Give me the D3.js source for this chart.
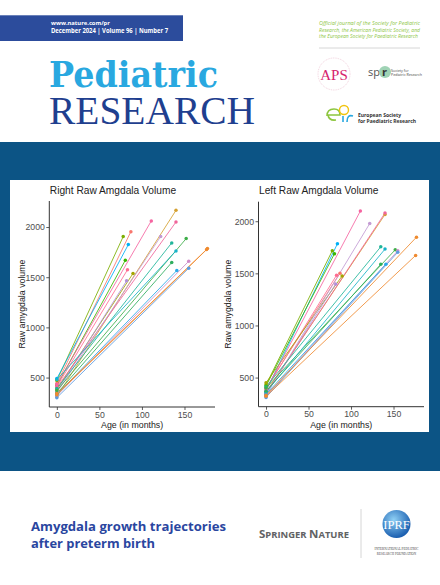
<!DOCTYPE html>
<html><head><meta charset="utf-8">
<script src="https://cdn.jsdelivr.net/npm/d3@7"></script>
<style>body{margin:0;background:#fff}svg{display:block}</style>
</head><body>
<svg id="c" width="440" height="585"></svg>
<script>
// ---- data ----
const subjects   = ["A","B","C","D","E","F","G","H","I","J","K","L","M","N","O","P","Q","R","S","T"];
const birthAge   = [0,0,0,0,0,0,0,0,0,0,0,0,0,0,0,0,0,0,0,0];
const followAge  = [78,87,84,80.5,83,89.5,82,111,140,140,122,135,152,140,135,155,141,155,177,176];
const rightBirth = [470,440,490,420,410,380,360,430,310,400,350,390,370,480,340,320,330,300,340,330];
const rightFollow= [1905,1954,1825,1669,1574,1537,1464,2061,2166,2050,1905,1842,1885,1762,1646,1659,1567,1590,1785,1775];
const leftBirth  = [430,400,370,420,390,450,340,380,360,350,330,410,400,360,370,320,340,310,330,320];
const leftFollow = [1718,1500,1784,1688,1482,1475,1399,2098,2065,2079,1978,1755,1726,1733,1587,1717,1587,1703,1847,1672];
const subjectColors = ["#7CAE00","#F8766D","#00B0F6","#39B600","#FF6C91","#A3A500","#B08FD8","#F564A0","#D4A030","#F0649A",
                       "#C39BD3","#1FB59A","#3DAE48","#18B3C8","#2EAE5E","#D08BC8","#2AA8E8","#5B9BE0","#EE8A2E","#F08A30"];
const xTicks = [0,50,100,150];
const yTicks = [500,1000,1500,2000];
const panelTitles = ["Right Raw Amgdala Volume","Left Raw Amgdala Volume"];

const svg = d3.select("#c");

// ---- cover furniture ----
svg.append("rect").attr("x",0).attr("y",15.3).attr("width",183).attr("height",25.7).attr("fill","#2C4C9C");
svg.append("text").attr("x",51).attr("y",25).attr("fill","#fff").attr("font-family","Open Sans, sans-serif")
  .attr("font-weight","bold").attr("font-size",5.8).text("www.nature.com/pr");
svg.append("text").attr("x",51).attr("y",33.4).attr("fill","#fff").attr("font-family","Open Sans, sans-serif")
  .attr("font-weight","bold").attr("font-size",6.6).attr("textLength",117).attr("lengthAdjust","spacingAndGlyphs")
  .text("December 2024 | Volume 96 | Number 7");

svg.append("text").attr("x",49).attr("y",87).attr("fill","#29A8E0").attr("font-family","DejaVu Serif, serif")
  .attr("font-weight","bold").attr("font-size",35).attr("textLength",169).attr("lengthAdjust","spacingAndGlyphs").text("Pediatric");
svg.append("text").attr("x",49).attr("y",124).attr("fill","#1F3F8F").attr("font-family","Liberation Serif, serif")
  .attr("font-size",40.5).attr("textLength",206).attr("lengthAdjust","spacingAndGlyphs").text("RESEARCH");

const gtxt = ["Official journal of the Society for Pediatric","Research, the American Pediatric Society, and","the European Society for Paediatric Research"];
gtxt.forEach((t,i)=>svg.append("text").attr("x",319).attr("y",25+i*6.6).attr("fill","#8DC63F")
  .attr("font-family","Open Sans, sans-serif").attr("font-style","italic").attr("font-size",4.9)
  .attr("textLength",i==2?99:101).attr("lengthAdjust","spacingAndGlyphs").text(t));
svg.append("line").attr("x1",319).attr("x2",420).attr("y1",48).attr("y2",48).attr("stroke","#ccc").attr("stroke-width",0.8);

// APS
svg.append("circle").attr("cx",334).attr("cy",74).attr("r",16).attr("fill","none").attr("stroke","#e9b7c9").attr("stroke-width",0.6).attr("stroke-dasharray","1 0.8");
svg.append("text").attr("x",334).attr("y",80).attr("text-anchor","middle").attr("fill","#D6246E")
  .attr("font-family","Liberation Serif, serif").attr("font-size",15).text("APS");
// SPR
svg.append("text").attr("x",368).attr("y",76).attr("fill","#555").attr("font-family","Open Sans, sans-serif").attr("font-size",11).text("sp");
svg.append("circle").attr("cx",385).attr("cy",72).attr("r",6).attr("fill","#9fd3b5");
svg.append("text").attr("x",382).attr("y",76).attr("fill","#333").attr("font-family","Open Sans, sans-serif").attr("font-weight","bold").attr("font-size",11).text("r");
svg.append("text").attr("x",391).attr("y",71.5).attr("fill","#444").attr("font-family","Open Sans, sans-serif").attr("font-size",3.6).text("Society for");
svg.append("text").attr("x",391).attr("y",76).attr("fill","#444").attr("font-family","Open Sans, sans-serif").attr("font-size",3.6).text("Pediatric Research");
// ESPR
svg.append("path").attr("d","M327,116 q0,-7 7,-7 q6,0 6,6 l-12,0 q1,6 8,5").attr("fill","none").attr("stroke","#8dc63f").attr("stroke-width",1.6);
svg.append("circle").attr("cx",344).attr("cy",110).attr("r",4.5).attr("fill","none").attr("stroke","#f1c40f").attr("stroke-width",1.4);
svg.append("path").attr("d","M343,122 l0,-6 M347,122 q0,-8 6,-6").attr("fill","none").attr("stroke","#29A8E0").attr("stroke-width",1.6);
svg.append("text").attr("x",358).attr("y",116.5).attr("fill","#333").attr("font-family","Open Sans, sans-serif").attr("font-weight","bold").attr("font-size",5).text("European Society");
svg.append("text").attr("x",358).attr("y",122.5).attr("fill","#333").attr("font-family","Open Sans, sans-serif").attr("font-weight","bold").attr("font-size",5).text("for Paediatric Research");

// band + panel
svg.append("rect").attr("x",0).attr("y",142).attr("width",440).attr("height",329).attr("fill","#0C5485");
svg.append("rect").attr("x",10).attr("y",180).attr("width",419).attr("height",252).attr("fill","#fff");

// bottom
svg.append("text").attr("x",31).attr("y",531).attr("fill","#2A46A0").attr("font-family","Open Sans, sans-serif")
  .attr("font-weight","bold").attr("font-size",13).attr("textLength",195).attr("lengthAdjust","spacingAndGlyphs").text("Amygdala growth trajectories");
svg.append("text").attr("x",31).attr("y",548).attr("fill","#2A46A0").attr("font-family","Open Sans, sans-serif")
  .attr("font-weight","bold").attr("font-size",13).attr("textLength",124).attr("lengthAdjust","spacingAndGlyphs").text("after preterm birth");
const sn = svg.append("text").attr("x",259).attr("y",537.7).attr("fill","#616264").attr("font-family","Open Sans, sans-serif")
  .attr("font-weight","bold").attr("textLength",90).attr("lengthAdjust","spacingAndGlyphs");
sn.append("tspan").attr("font-size",10.5).text("S");
sn.append("tspan").attr("font-size",8.6).text("PRINGER ");
sn.append("tspan").attr("font-size",10.5).text("N");
sn.append("tspan").attr("font-size",8.6).text("ATURE");
svg.append("line").attr("x1",361).attr("x2",361).attr("y1",509).attr("y2",558).attr("stroke","#ccc").attr("stroke-width",0.8);
const grad = svg.append("defs").append("radialGradient").attr("id","gl").attr("cx","40%").attr("cy","35%").attr("r","65%");
grad.append("stop").attr("offset","0%").attr("stop-color","#8fd0f5");
grad.append("stop").attr("offset","100%").attr("stop-color","#1b5fb0");
svg.append("circle").attr("cx",396.5).attr("cy",524).attr("r",14).attr("fill","url(#gl)");
svg.append("text").attr("x",396.5).attr("y",528.5).attr("text-anchor","middle").attr("fill","#fff")
  .attr("font-family","Liberation Serif, serif").attr("font-size",12.5).text("IPRF");
svg.append("text").attr("x",396.5).attr("y",549.5).attr("text-anchor","middle").attr("fill","#444")
  .attr("font-family","Liberation Serif, serif").attr("font-size",3.3).text("INTERNATIONAL PEDIATRIC");
svg.append("text").attr("x",396.5).attr("y",554.5).attr("text-anchor","middle").attr("fill","#444")
  .attr("font-family","Liberation Serif, serif").attr("font-size",3.3).text("RESEARCH FOUNDATION");

// ---- charts ----
function expand(ext){const d=(ext[1]-ext[0])*0.05;return [ext[0]-d,ext[1]+d];}
const allAges = birthAge.concat(followAge);
const xDom = expand(d3.extent(allAges));

function drawPanel(opt){
  const {left,right,top,bottom,birth,follow,title,labelX} = opt;
  const x = d3.scaleLinear().domain(xDom).range([left,right]);
  const y = d3.scaleLinear().domain(expand(d3.extent(birth.concat(follow)))).range([bottom,top]);
  const g = svg.append("g");
  subjects.forEach((s,i)=>{
    g.append("line").attr("x1",x(birthAge[i])).attr("y1",y(birth[i])).attr("x2",x(followAge[i])).attr("y2",y(follow[i]))
      .attr("stroke",subjectColors[i]).attr("stroke-width",0.85);
  });
  subjects.forEach((s,i)=>{
    g.append("circle").attr("cx",x(birthAge[i])).attr("cy",y(birth[i])).attr("r",1.75).attr("fill",subjectColors[i]);
    g.append("circle").attr("cx",x(followAge[i])).attr("cy",y(follow[i])).attr("r",1.75).attr("fill",subjectColors[i]);
  });
  const xa = svg.append("g").attr("transform",`translate(0,${bottom})`)
    .call(d3.axisBottom(x).tickValues(xTicks).tickSize(3).tickPadding(1.5).tickFormat(d3.format("d")));
  const ya = svg.append("g").attr("transform",`translate(${left},0)`)
    .call(d3.axisLeft(y).tickValues(yTicks).tickSize(3).tickPadding(1.5).tickFormat(d3.format("d")));
  [xa,ya].forEach(a=>{
    a.select(".domain").attr("stroke","#333").attr("stroke-width",1);
    a.selectAll(".tick line").attr("stroke","#333").attr("stroke-width",0.8);
    a.selectAll(".tick text").attr("fill","#4D4D4D").attr("font-family","Liberation Sans, Arial, sans-serif").attr("font-size",8.7);
  });
  ya.select(".domain").attr("d",`M0,${bottom}V${top}`);
  xa.select(".domain").attr("d",`M${left},0H${right}`);
  svg.append("text").attr("x",left+0.5).attr("y",194).attr("fill","#222").attr("font-family","Liberation Sans, Arial, sans-serif")
    .attr("font-size",10.2).text(title);
  svg.append("text").attr("x",(left+right)/2).attr("y",427.7).attr("text-anchor","middle").attr("fill","#222")
    .attr("font-family","Liberation Sans, Arial, sans-serif").attr("font-size",8.8).text("Age (in months)");
  svg.append("text").attr("transform",`translate(${labelX},${(top+bottom)/2}) rotate(-90)`).attr("text-anchor","middle")
    .attr("fill","#222").attr("font-family","Liberation Sans, Arial, sans-serif").attr("font-size",8.8).text("Raw amygdala volume");
}
drawPanel({left:49.3,right:215,top:201,bottom:407,birth:rightBirth,follow:rightFollow,title:panelTitles[0],labelX:24.5});
drawPanel({left:258.5,right:424,top:201.7,bottom:406.7,birth:leftBirth,follow:leftFollow,title:panelTitles[1],labelX:231});
</script>
</body></html>
